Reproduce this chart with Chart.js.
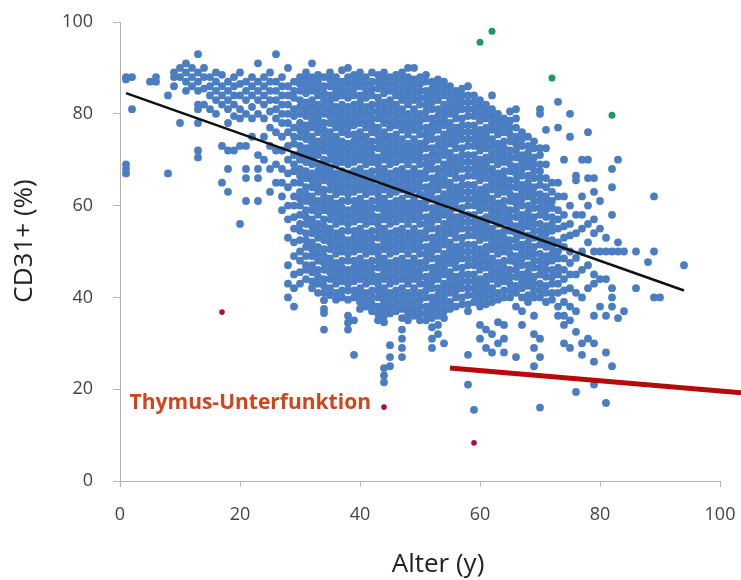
<!DOCTYPE html>
<html>
<head>
<meta charset="utf-8">
<script src="https://cdn.jsdelivr.net/npm/chart.js@4.4.0/dist/chart.umd.min.js"></script>
<style>
  html, body { margin: 0; padding: 0; background: #fff; }
  #wrap { width: 741px; height: 580px; }
</style>
</head>
<body>
<div id="wrap"><canvas id="myChart"></canvas></div>
<script>
// ages (x) and CD31+ values (y)
var blueAges = [1, 2, 5, 6, 8, 9, 10, 11, 12, 13, 14, 15, 16, 17, 18, 19, 20, 21, 22, 23, 24, 25, 26, 27, 28,
  29, 30, 31, 32, 33, 34, 35, 36, 37, 38, 39, 40, 41, 42, 43, 44, 45, 46, 47, 48, 49, 50,
  51, 52, 53, 54, 55, 56, 57, 58, 59, 60, 61, 62, 63, 64, 65, 66, 67, 68, 69, 70,
  71, 72, 73, 74, 75, 76, 77, 78, 79, 80, 81, 82, 83, 84, 86, 88, 89, 90, 94];

var blueValues = [
  [88, 87.5, 69, 68, 67],
  [88, 81],
  [87],
  [88, 87],
  [84, 67],
  [89, 88, 86],
  [90, 88, 78],
  [91, 89, 87, 85],
  [90, 88, 86],
  [93, 89, 87, 85, 82, 81, 78, 72, 70.5],
  [90, 88, 85.5, 82],
  [88, 86, 84, 81],
  [89, 87, 85, 83, 80],
  [88.5, 86, 84, 82, 73, 65],
  [87, 85, 83, 81, 78, 72, 68, 63],
  [88, 86, 84, 82, 79.5, 72],
  [89, 86.5, 84, 81, 79, 73, 56],
  [87, 85, 83, 80, 73, 68, 66, 61],
  [88, 86, 84, 81.5, 79, 75],
  [91, 87, 85, 83, 80, 71, 68, 66, 61],
  [88, 86, 84, 82, 79, 75, 70],
  [89, 87, 85, 83, 80.5, 77, 73, 68, 63],
  [93, 87, 85, 83, 81, 79, 76, 72, 69, 65],
  [88, 86, 84, 82, 80, 78, 75, 72, 68, 65, 62, 59],
  [90, 86, 84, 82, 80, 78, 76, 73, 70, 67, 64, 60, 57, 53, 47, 43, 40],
  [87, 85, 83.5, 81, 79.5, 77, 75, 73.5, 71, 69, 67.5, 65, 62, 60, 57.5, 55, 52, 49, 45, 42, 38],
  [88, 86.5, 85, 83, 81.5, 80, 78, 76.5, 75, 73, 71.5, 70, 68, 66.5, 65, 63, 61.5, 60, 58, 56, 54.5, 52.5, 50, 48, 45.5, 43],
  [89, 87.5, 86, 84.5, 82.5, 81, 79.5, 77.5, 76, 74.5, 72.5, 71, 69.5, 67.5, 66, 64, 62.5, 61, 59, 57.5, 56, 54, 52.5, 51, 49, 47, 46, 44],
  [91, 88, 86.5, 85, 83, 81.5, 80, 78.5, 77, 75, 73.5, 72, 70.5, 69, 67, 65.5, 64, 62, 60.5, 59, 57, 55.5, 54, 52, 50.5, 49, 47, 45.5, 43.5, 42],
  [88.5, 87, 85.5, 84, 82, 80.5, 79, 77.5, 76, 74, 72.5, 71, 69, 67.5, 66, 64.5, 63, 61, 59.5, 58, 56, 54.5, 53, 51, 49.5, 48, 46, 44.5, 43, 41],
  [88, 86, 84.5, 83, 81.5, 80, 78, 76.5, 75, 73.5, 72, 70, 68.5, 67, 65.5, 63.5, 62, 60.5, 59, 57, 55.5, 54, 52.5, 50.5, 49, 47.5, 46, 44, 42.5, 41, 39.4, 37.5, 36.6, 33],
  [89, 87.5, 86, 84, 82.5, 81, 79.5, 78, 76, 74.5, 73, 71.5, 70, 68, 66.5, 65, 63.5, 61.5, 60, 58.5, 57, 55, 53.5, 52, 50.5, 48.5, 47, 45.5, 44, 42, 40.5],
  [88, 86.5, 85, 83.5, 81.5, 80, 78.5, 77, 75, 73.5, 72, 70.5, 69, 67, 65.5, 64, 62.5, 60.5, 59, 57.5, 56, 54, 52.5, 51, 49.5, 47.5, 46, 44.5, 43, 41, 39.5],
  [89.5, 87, 85.5, 84, 82, 80.5, 79, 77.5, 76, 74, 72.5, 71, 69.5, 67.5, 66, 64.5, 63, 61, 59.5, 58, 56.5, 54.5, 53, 51.5, 50, 48, 46.5, 45, 43.5, 41.5, 40],
  [90, 88, 86.5, 85, 83.5, 81.5, 80, 78.5, 77, 75.5, 73.5, 72, 70.5, 69, 67, 65.5, 64, 62.5, 61, 59, 57.5, 56, 54.5, 52.5, 51, 49.5, 48, 46, 44.5, 43, 41.5, 39.5, 36, 34.5, 33],
  [88.5, 87, 85.5, 84, 82, 80.5, 79, 77.5, 75.5, 74, 72.5, 71, 69.5, 67.5, 66, 64.5, 63, 61, 59.5, 58, 56.5, 54.5, 53, 51.5, 50, 48, 46.5, 45, 43.5, 41.5, 40, 35, 27.5],
  [89, 87.5, 86, 84, 82.5, 81, 79.5, 78, 76, 74.5, 73, 71.5, 70, 68, 66.5, 65, 63.5, 61.5, 60, 58.5, 57, 55, 53.5, 52, 50.5, 48.5, 47, 45.5, 44, 42, 40.5, 39, 37.5],
  [88, 86.5, 85, 83.5, 81.5, 80, 78.5, 77, 75, 73.5, 72, 70.5, 69, 67, 65.5, 64, 62.5, 60.5, 59, 57.5, 56, 54, 52.5, 51, 49.5, 47.5, 46, 44.5, 43, 41, 39.5, 38],
  [89, 87, 85.5, 84, 82, 80.5, 79, 77.5, 76, 74, 72.5, 71, 69.5, 67.5, 66, 64.5, 63, 61, 59.5, 58, 56.5, 54.5, 53, 51.5, 50, 48, 46.5, 45, 43.5, 41.5, 40, 38.5, 37],
  [88.5, 87, 85.5, 83.5, 82, 80.5, 79, 77, 75.5, 74, 72.5, 70.5, 69, 67.5, 66, 64, 62.5, 61, 59.5, 57.5, 56, 54.5, 53, 51, 49.5, 48, 46.5, 44.5, 43, 41.5, 40, 38, 36.5, 35],
  [89, 87.5, 86, 84.5, 82.5, 81, 79.5, 78, 76, 74.5, 73, 71.5, 70, 68, 66.5, 65, 63.5, 61.5, 60, 58.5, 57, 55, 53.5, 52, 50.5, 48.5, 47, 45.5, 44, 42, 40.5, 39, 37.5, 36, 34.6, 24.6, 23, 21.5],
  [88, 86.5, 85, 83, 81.5, 80, 78.5, 77, 75, 73.5, 72, 70.5, 69, 67, 65.5, 64, 62.5, 60.5, 59, 57.5, 56, 54, 52.5, 51, 49.5, 47.5, 46, 44.5, 43, 41, 39.5, 38, 36.5, 29.6, 27, 25],
  [88.5, 87, 85.5, 84, 82, 80.5, 79, 77.5, 75.5, 74, 72.5, 71, 69.5, 67.5, 66, 64.5, 63, 61, 59.5, 58, 56.5, 54.5, 53, 51.5, 50, 48, 46.5, 45, 43.5, 41.5, 40, 38.5, 37],
  [89, 87.5, 86, 84.5, 83, 81, 79.5, 78, 76.5, 74.5, 73, 71.5, 70, 68, 66.5, 65, 63.5, 61.5, 60, 58.5, 57, 55, 53.5, 52, 50.5, 48.5, 47, 45.5, 44, 42, 40.5, 39, 37.5, 35.5, 33, 31, 29, 27],
  [90, 88, 86.5, 85, 83.5, 82, 80, 78.5, 77, 75.5, 73.5, 72, 70.5, 69, 67, 65.5, 64, 62.5, 60.5, 59, 57.5, 56, 54, 52.5, 51, 49.5, 47.5, 46, 44.5, 43, 41, 39.5, 38, 36.5, 35],
  [90, 87.5, 86, 84.5, 83, 81, 79.5, 78, 76.5, 74.5, 73, 71.5, 70, 68, 66.5, 65, 63.5, 61.5, 60, 58.5, 57, 55, 53.5, 52, 50.5, 48.5, 47, 45.5, 44, 42, 40.5, 39, 37.5, 36],
  [88, 86.5, 85, 83.5, 82, 80, 78.5, 77, 75.5, 73.5, 72, 70.5, 69, 67, 65.5, 64, 62.5, 60.5, 59, 57.5, 56, 54, 52.5, 51, 49.5, 47.5, 46, 44.5, 43, 41, 39.5, 38, 36.5, 35],
  [88.5, 87, 85, 83.5, 82, 80.5, 79, 77, 75.5, 74, 72.5, 70.5, 69, 67.5, 66, 64, 62.5, 61, 59.5, 57.5, 56, 54.5, 53, 51, 49.5, 48, 46.5, 44.5, 43, 41.5, 40, 38, 36.5, 35],
  [87, 85.5, 84, 82.5, 81, 79, 77.5, 76, 74.5, 72.5, 71, 69.5, 68, 66, 64.5, 63, 61.5, 59.5, 58, 56.5, 55, 53, 51.5, 50, 48.5, 46.5, 45, 43.5, 42, 40, 38.5, 37, 35.5, 33.5, 31, 29],
  [87.5, 86, 84.5, 83, 81, 79.5, 78, 76.5, 74.5, 73, 71.5, 70, 68, 66.5, 65, 63.5, 61.5, 60, 58.5, 57, 55, 53.5, 52, 50.5, 48.5, 47, 45.5, 44, 42, 40.5, 39, 37.5, 36, 34, 32],
  [87, 85.5, 84, 82, 80.5, 79, 77.5, 75.5, 74, 72.5, 71, 69, 67.5, 66, 64.5, 62.5, 61, 59.5, 58, 56, 54.5, 53, 51.5, 49.5, 48, 46.5, 45, 43, 41.5, 40, 38.5, 37, 35.5, 30],
  [86, 84.5, 83, 81.5, 80, 78, 76.5, 75, 73.5, 71.5, 70, 68.5, 67, 65, 63.5, 62, 60.5, 58.5, 57, 55.5, 54, 52, 50.5, 49, 47.5, 45.5, 44, 42.5, 41, 39, 37.5],
  [85, 83.5, 82, 80.5, 79, 77, 75.5, 74, 72.5, 70.5, 69, 67.5, 66, 64, 62.5, 61, 59.5, 57.5, 56, 54.5, 53, 51, 49.5, 48, 46.5, 44.5, 43, 41.5, 40, 38],
  [85.5, 84, 82.5, 81, 79, 77.5, 76, 74.5, 72.5, 71, 69.5, 68, 66, 64.5, 63, 61.5, 59.5, 58, 56.5, 55, 53, 51.5, 50, 48.5, 46.5, 45, 43.5, 42, 40, 38.5],
  [86, 84, 82.5, 81, 79.5, 77.5, 76, 74.5, 73, 71, 69.5, 68, 66.5, 64.5, 63, 61.5, 60, 58, 56.5, 55, 53.5, 51.5, 50, 48.5, 47, 45, 43.5, 42, 40.5, 38.5, 37, 27.5, 21],
  [84, 82.5, 81, 79.5, 77.5, 76, 74.5, 73, 71, 69.5, 68, 66.5, 64.5, 63, 61.5, 60, 58, 56.5, 55, 53.5, 51.5, 50, 48.5, 47, 45, 43.5, 42, 40.5, 39, 15.5],
  [83, 81.5, 80, 78.5, 76.5, 75, 73.5, 72, 70, 68.5, 67, 65.5, 63.5, 62, 60.5, 59, 57, 55.5, 54, 52.5, 50.5, 49, 47.5, 46, 44, 42.5, 41, 39.5, 38, 34, 31],
  [82, 80.5, 79, 77, 75.5, 74, 72.5, 70.5, 69, 67.5, 66, 64, 62.5, 61, 59.5, 57.5, 56, 54.5, 53, 51, 49.5, 48, 46.5, 44.5, 43, 41.5, 40, 38.5, 33, 29],
  [84, 81, 79.5, 78, 76.5, 74.5, 73, 71.5, 70, 68, 66.5, 65, 63.5, 61.5, 60, 58.5, 57, 55, 53.5, 52, 50.5, 48.5, 47, 45.5, 44, 42, 40.5, 39, 32, 28],
  [80, 78.5, 77, 75.5, 73.5, 72, 70.5, 69, 67, 65.5, 64, 62.5, 60.5, 59, 57.5, 56, 54, 52.5, 51, 49.5, 47.5, 46, 44.5, 43, 41, 39.5, 34.6, 30],
  [79, 77.5, 76, 74, 72.5, 71, 69.5, 67.5, 66, 64.5, 63, 61, 59.5, 58, 56.5, 54.5, 53, 51.5, 50, 48, 46.5, 45, 43.5, 41.5, 40, 34, 31, 28],
  [80.5, 78.5, 77, 75.5, 74, 72, 70.5, 69, 67.5, 65.5, 64, 62.5, 61, 59, 57.5, 56, 54.5, 52.5, 51, 49.5, 48, 46, 44.5, 43, 41.5, 40],
  [81, 79, 77, 75, 73.5, 72, 70.5, 68.5, 67, 65.5, 64, 62, 60.5, 59, 57.5, 55.5, 54, 52.5, 51, 49, 47.5, 46, 44.5, 42.5, 41, 38, 27],
  [76, 74.5, 73, 71, 69.5, 68, 66.5, 64.5, 63, 61.5, 60, 58, 56.5, 55, 53.5, 51.5, 50, 48.5, 47, 45, 43.5, 42, 40, 37, 34],
  [75, 73, 71.5, 70, 68.5, 66.5, 65, 63.5, 62, 60, 58.5, 57, 55.5, 53.5, 52, 50.5, 49, 47, 45.5, 44, 42.5, 40.5, 39],
  [74, 72.5, 70.5, 69, 67.5, 66, 64, 62.5, 61, 59.5, 57.5, 56, 54.5, 53, 51, 49.5, 48, 46.5, 44.5, 43, 41.5, 40, 36, 32, 29, 25],
  [81, 80, 72.5, 71, 69, 67.5, 66, 64.5, 62.5, 61, 59.5, 58, 56, 54.5, 53, 51.5, 49.5, 48, 46.5, 45, 43, 41.5, 40, 31, 27, 16],
  [76.5, 72.5, 69, 66, 64, 62, 60.5, 59, 57.5, 55.5, 54, 52.5, 51, 49, 47.5, 46, 44.5, 42.5, 41, 39],
  [65, 63, 61, 59.5, 57.5, 56, 54.5, 52.5, 51, 49.5, 48, 46, 44.5, 43, 41, 39.5],
  [82.6, 77, 65, 62, 59, 57, 55, 52, 50, 48.5, 46.5, 45, 43, 41, 38, 36],
  [70, 62, 58, 55.5, 53, 51, 48.5, 46, 44, 41.5, 39, 36, 34, 30],
  [80, 75, 60, 56, 53.5, 50, 47.5, 45, 42, 38, 35, 29],
  [66.5, 65.5, 58, 54, 48.6, 45, 41, 37, 32.5, 19.4],
  [70, 62, 58, 55, 50, 46, 40, 30, 27.5],
  [76, 70, 66, 60, 56, 52, 47, 42, 31],
  [66, 63, 57, 54, 50, 45, 43, 36, 30, 26, 21],
  [61, 55, 50, 44, 38],
  [53, 50, 44, 36, 28, 17],
  [68, 64, 58, 50, 42, 40, 38, 25],
  [70, 52, 50, 35.5],
  [50, 37],
  [50, 42],
  [47.7],
  [62, 50, 40],
  [40],
  [47]
];

var greenAges = [60, 62, 72, 82];
var greenValues = [95.6, 98, 87.8, 79.7];

var redAges = [17, 44, 59];
var redValues = [36.8, 16.1, 8.3];

// black regression line and red "Thymus-Unterfunktion" line, end points
var trendAges = [1, 94];
var trendValues = [84.5, 41.5];
var thymusAges = [55, 103.5];
var thymusValues = [24.6, 19.2];

var xTicks = [0, 20, 40, 60, 80, 100];
var yTicks = [0, 20, 40, 60, 80, 100];

function toPoints(xs, ys) {
  var pts = [];
  for (var i = 0; i < xs.length; i++) {
    pts.push({ x: xs[i], y: ys[i] });
  }
  return pts;
}

var bluePoints = [];
for (var i = 0; i < blueAges.length; i++) {
  for (var j = 0; j < blueValues[i].length; j++) {
    bluePoints.push({ x: blueAges[i], y: blueValues[i][j] });
  }
}

// axis titles and the red label are drawn by hand so they sit where the picture has them
var textPlugin = {
  id: 'texts',
  afterDraw: function (chart) {
    var ctx = chart.ctx;
    var xs = chart.scales.x, ys = chart.scales.y;
    ctx.save();
    ctx.fillStyle = '#222';
    ctx.font = '26px "Open Sans"';
    ctx.textAlign = 'center';
    ctx.textBaseline = 'middle';
    ctx.fillText('Alter (y)', xs.getPixelForValue(53), 565);
    ctx.translate(25, ys.getPixelForValue(52.3));
    ctx.rotate(-Math.PI / 2);
    ctx.fillText('CD31+ (%)', 0, 0);
    ctx.restore();

    ctx.save();
    ctx.fillStyle = '#d2441c';
    ctx.font = 'bold 21px "Open Sans"';
    ctx.textAlign = 'left';
    ctx.textBaseline = 'middle';
    ctx.fillText('Thymus-Unterfunktion', xs.getPixelForValue(1.6), ys.getPixelForValue(17));
    ctx.restore();
  }
};

// keep the plot box where the picture has it: no extra room for edge labels
function noEdgePadding(scale) {
  scale.paddingTop = 0;
  scale.paddingBottom = 0;
  scale.paddingLeft = 0;
  scale.paddingRight = 0;
}

var ctx = document.getElementById('myChart').getContext('2d');
var myChart = new Chart(ctx, {
  type: 'scatter',
  data: {
    datasets: [
      {
        data: toPoints(thymusAges, thymusValues),
        showLine: true,
        borderColor: '#b80a0a',
        borderWidth: 5,
        pointRadius: 0,
        clip: false,
        order: 0
      },
      {
        data: toPoints(trendAges, trendValues),
        showLine: true,
        borderColor: '#111111',
        borderWidth: 2.5,
        pointRadius: 0,
        order: 1
      },
      {
        data: toPoints(greenAges, greenValues),
        backgroundColor: '#1f9860',
        borderWidth: 0,
        pointRadius: 3.5,
        order: 2
      },
      {
        data: toPoints(redAges, redValues),
        backgroundColor: '#a8123a',
        borderWidth: 0,
        pointRadius: 2.8,
        order: 2
      },
      {
        data: bluePoints,
        backgroundColor: '#4a7dc1',
        borderWidth: 0,
        pointRadius: 3.9,
        order: 5
      }
    ]
  },
  options: {
    responsive: true,
    maintainAspectRatio: false,
    animation: false,
    layout: { padding: { left: 0, right: 21, top: 22, bottom: 0 } },
    plugins: {
      legend: { display: false },
      tooltip: { enabled: false }
    },
    scales: {
      x: {
        type: 'linear',
        min: 0,
        max: 100,
        afterBuildTicks: function (scale) {
          scale.ticks = xTicks.map(function (v) { return { value: v }; });
        },
        afterFit: function (scale) { scale.height = 99; noEdgePadding(scale); },
        grid: { drawOnChartArea: false, tickLength: 6, color: '#b8b8b8' },
        border: { color: '#b0b0b0' },
        ticks: { color: '#444', font: { family: 'Open Sans', size: 18 }, padding: 17 }
      },
      y: {
        type: 'linear',
        min: 0,
        max: 100,
        afterBuildTicks: function (scale) {
          scale.ticks = yTicks.map(function (v) { return { value: v }; });
        },
        afterFit: function (scale) { scale.width = 120; noEdgePadding(scale); },
        grid: { drawOnChartArea: false, tickLength: 7, color: '#b8b8b8' },
        border: { color: '#b0b0b0' },
        ticks: { color: '#444', font: { family: 'Open Sans', size: 18 }, padding: 20 }
      }
    }
  },
  plugins: [textPlugin]
});
</script>
</body>
</html>
